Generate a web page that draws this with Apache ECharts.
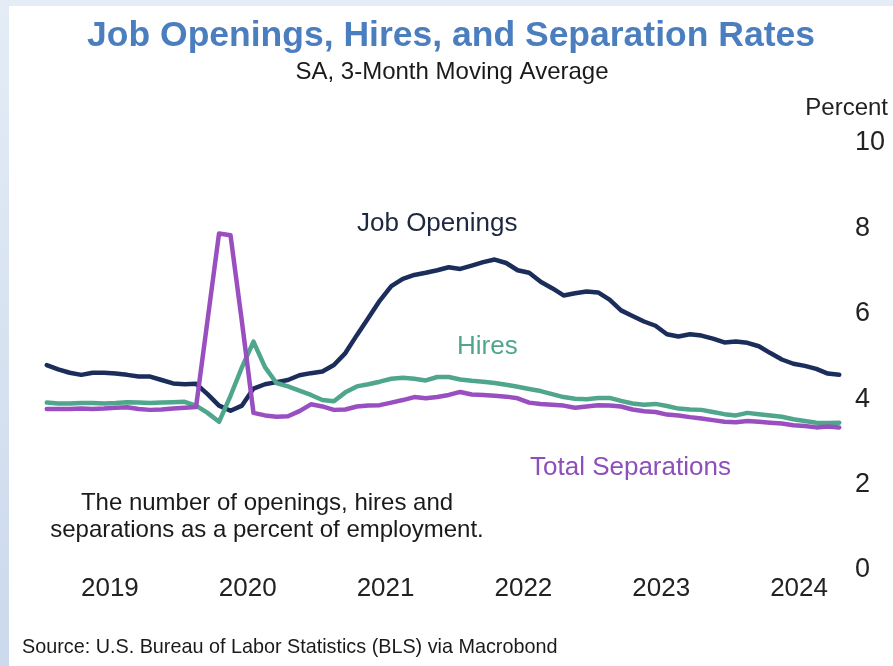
<!DOCTYPE html>
<html>
<head>
<meta charset="utf-8">
<script src="https://cdn.jsdelivr.net/npm/echarts@6/dist/echarts.min.js"></script>
<style>
  html, body { margin: 0; padding: 0; background: #ffffff; }
  #chart { width: 893px; height: 666px; }
</style>
</head>
<body>
<div id="chart"></div>
<script>
// Monthly observations, Jan 2019 – Oct 2024 (rates in percent of employment, 3-month moving average)
const months = [
  '2019-01','2019-02','2019-03','2019-04','2019-05','2019-06','2019-07','2019-08','2019-09','2019-10','2019-11','2019-12',
  '2020-01','2020-02','2020-03','2020-04','2020-05','2020-06','2020-07','2020-08','2020-09','2020-10','2020-11','2020-12',
  '2021-01','2021-02','2021-03','2021-04','2021-05','2021-06','2021-07','2021-08','2021-09','2021-10','2021-11','2021-12',
  '2022-01','2022-02','2022-03','2022-04','2022-05','2022-06','2022-07','2022-08','2022-09','2022-10','2022-11','2022-12',
  '2023-01','2023-02','2023-03','2023-04','2023-05','2023-06','2023-07','2023-08','2023-09','2023-10','2023-11','2023-12',
  '2024-01','2024-02','2024-03','2024-04','2024-05','2024-06','2024-07','2024-08','2024-09','2024-10'
];

const jobOpenings = [
  4.80, 4.70, 4.62, 4.57, 4.62, 4.62, 4.60, 4.57, 4.53, 4.53, 4.45, 4.37,
  4.35, 4.36, 4.12, 3.85, 3.73, 3.85, 4.25, 4.35, 4.40, 4.45, 4.56, 4.61,
  4.65, 4.80, 5.08, 5.50, 5.90, 6.31, 6.65, 6.82, 6.91, 6.96, 7.02, 7.09,
  7.05, 7.13, 7.21, 7.27, 7.19, 7.02, 6.96, 6.75, 6.60, 6.43, 6.48, 6.52,
  6.50, 6.33, 6.08, 5.95, 5.82, 5.72, 5.52, 5.47, 5.52, 5.49, 5.42, 5.33,
  5.35, 5.32, 5.24, 5.08, 4.93, 4.83, 4.78, 4.71, 4.60, 4.57
];

const hires = [
  3.92, 3.90, 3.90, 3.91, 3.91, 3.90, 3.91, 3.93, 3.92, 3.91, 3.92, 3.93,
  3.94, 3.85, 3.68, 3.47, 4.08, 4.75, 5.35, 4.75, 4.38, 4.30, 4.20, 4.10,
  3.98, 3.95, 4.16, 4.30, 4.35, 4.41, 4.48, 4.50, 4.48, 4.44, 4.52, 4.52,
  4.46, 4.43, 4.41, 4.38, 4.34, 4.29, 4.24, 4.19, 4.12, 4.05, 4.01, 4.00,
  4.03, 4.03, 3.96, 3.90, 3.87, 3.89, 3.84, 3.78, 3.76, 3.75, 3.70, 3.65,
  3.62, 3.68, 3.65, 3.62, 3.59, 3.53, 3.49, 3.45, 3.44, 3.45
];

const totalSeparations = [
  3.77, 3.77, 3.77, 3.78, 3.77, 3.78, 3.80, 3.81, 3.77, 3.75, 3.76, 3.78,
  3.80, 3.82, 5.85, 7.88, 7.84, 5.80, 3.68, 3.62, 3.59, 3.60, 3.72, 3.88,
  3.83, 3.75, 3.76, 3.83, 3.85, 3.86, 3.92, 3.98, 4.05, 4.02, 4.05, 4.10,
  4.17, 4.11, 4.10, 4.08, 4.06, 4.02, 3.92, 3.89, 3.87, 3.85, 3.80, 3.83,
  3.86, 3.85, 3.83, 3.76, 3.72, 3.70, 3.64, 3.62, 3.58, 3.55, 3.51, 3.47,
  3.46, 3.49, 3.47, 3.45, 3.43, 3.39, 3.37, 3.34, 3.36, 3.34
];

const yearLabels = ['2019', '2020', '2021', '2022', '2023', '2024'];
const yTicks = [0, 2, 4, 6, 8, 10];

// Month position on the x scale: months since Jan 2019, plotted at mid-month
const firstYear = 2019;
function monthPos(ym) {
  const [y, m] = ym.split('-').map(Number);
  return (y - firstYear) * 12 + (m - 1) + 0.5;
}
// Year labels sit at the middle of each calendar year
const yearPos = yearLabels.map(y => (Number(y) - firstYear) * 12 + 6);

const pairs = vals => months.map((m, i) => [monthPos(m), vals[i]]);

const FONT = '"Liberation Sans", Arial, sans-serif';
const C_OPEN = '#1b2d5b';
const C_HIRE = '#4fa68c';
const C_SEP = '#9a4fc1';

const chart = echarts.init(document.getElementById('chart'), null, { renderer: 'canvas' });

chart.setOption({
  backgroundColor: '#ffffff',
  animation: false,
  textStyle: { fontFamily: FONT },
  title: [
    {
      text: 'Job Openings, Hires, and Separation Rates',
      left: 451, top: 18, textAlign: 'center', padding: 0,
      textStyle: { fontFamily: FONT, fontSize: 35.5, fontWeight: 'bold', color: '#4a7ebf' }
    },
    {
      text: 'SA, 3-Month Moving Average',
      left: 452, top: 60, textAlign: 'center', padding: 0,
      textStyle: { fontFamily: FONT, fontSize: 24, fontWeight: 'normal', color: '#1a1a1a' }
    },
    {
      text: 'Source: U.S. Bureau of Labor Statistics (BLS) via Macrobond',
      left: 22, top: 638, padding: 0,
      textStyle: { fontFamily: FONT, fontSize: 19.8, fontWeight: 'normal', color: '#1a1a1a' }
    }
  ],
  grid: { left: 41, right: 48, top: 143, bottom: 96, containLabel: false },
  xAxis: {
    type: 'value',
    min: 0,
    max: 70,
    axisLine: { show: false },
    axisTick: { show: false },
    splitLine: { show: false },
    axisLabel: {
      customValues: yearPos,
      formatter: v => yearLabels[Math.round((v - 6) / 12)],
      margin: 6,
      fontFamily: FONT,
      fontSize: 26,
      color: '#222222'
    }
  },
  yAxis: {
    type: 'value',
    position: 'right',
    min: yTicks[0],
    max: yTicks[yTicks.length - 1],
    interval: 2,
    axisLine: { show: false },
    axisTick: { show: false },
    splitLine: { show: false },
    axisLabel: {
      margin: 10,
      fontFamily: FONT,
      fontSize: 27,
      color: '#222222'
    }
  },
  series: [
    {
      name: 'Job Openings',
      type: 'line',
      data: pairs(jobOpenings),
      showSymbol: false,
      lineStyle: { color: C_OPEN, width: 4.5, join: 'round', cap: 'round' },
      itemStyle: { color: C_OPEN },
      z: 2
    },
    {
      name: 'Hires',
      type: 'line',
      data: pairs(hires),
      showSymbol: false,
      lineStyle: { color: C_HIRE, width: 4.5, join: 'round', cap: 'round' },
      itemStyle: { color: C_HIRE },
      z: 3
    },
    {
      name: 'Total Separations',
      type: 'line',
      data: pairs(totalSeparations),
      showSymbol: false,
      lineStyle: { color: C_SEP, width: 4.5, join: 'round', cap: 'round' },
      itemStyle: { color: C_SEP },
      z: 4
    }
  ],
  graphic: [
    // pale frame along the top and left edges
    {
      type: 'rect', z: -10, silent: true,
      shape: { x: 0, y: 0, width: 893, height: 6 },
      style: { fill: '#e4ecf6' }
    },
    {
      type: 'rect', z: -10, silent: true,
      shape: { x: 0, y: 0, width: 9, height: 666 },
      style: {
        fill: new echarts.graphic.LinearGradient(0, 0, 0, 1, [
          { offset: 0, color: '#e4ecf6' },
          { offset: 1, color: '#cbd9ec' }
        ])
      }
    },
    // unit label above the right-hand axis
    {
      type: 'text', x: 888, y: 108,
      style: { text: 'Percent', font: '24px ' + FONT, fill: '#222222', align: 'right', verticalAlign: 'middle' }
    },
    // series annotations
    {
      type: 'text', x: 357, y: 224,
      style: { text: 'Job Openings', font: '26px ' + FONT, fill: '#1c2740', verticalAlign: 'middle' }
    },
    {
      type: 'text', x: 457, y: 347,
      style: { text: 'Hires', font: '26px ' + FONT, fill: '#4fa68c', verticalAlign: 'middle' }
    },
    {
      type: 'text', x: 530, y: 468,
      style: { text: 'Total Separations', font: '26px ' + FONT, fill: '#8c4fbb', verticalAlign: 'middle' }
    },
    {
      type: 'text', x: 267, y: 503,
      style: { text: 'The number of openings, hires and', font: '24px ' + FONT, fill: '#1a1a1a', align: 'center', verticalAlign: 'middle' }
    },
    {
      type: 'text', x: 267, y: 530,
      style: { text: 'separations as a percent of employment.', font: '24px ' + FONT, fill: '#1a1a1a', align: 'center', verticalAlign: 'middle' }
    }
  ]
});
</script>
</body>
</html>
